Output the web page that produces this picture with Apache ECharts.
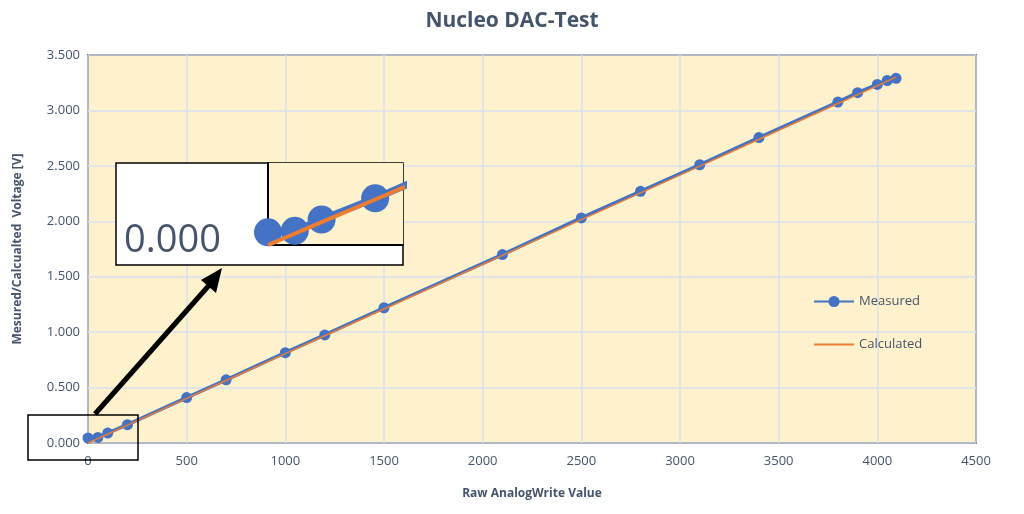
<!DOCTYPE html>
<html>
<head>
<meta charset="utf-8">
<script src="https://cdn.jsdelivr.net/npm/echarts@6/dist/echarts.min.js"></script>
<style>html,body{margin:0;padding:0;background:#fff}#chart{width:1024px;height:514px}</style>
</head>
<body>
<div id="chart"></div>
<script>
// raw DAC input values
const rawValues = [0, 50, 100, 200, 500, 700, 1000, 1200, 1500, 2100, 2500, 2800, 3100, 3400, 3800, 3900, 4000, 4050, 4095]
// measured voltages
const measured = [0.045, 0.05, 0.09, 0.165, 0.41, 0.57, 0.815, 0.975, 1.22, 1.70, 2.03, 2.27, 2.51, 2.755, 3.075, 3.16, 3.235, 3.27, 3.29]
// calculated voltages
const calculated = [0, 0.040, 0.081, 0.161, 0.403, 0.564, 0.806, 0.967, 1.209, 1.692, 2.015, 2.256, 2.498, 2.740, 3.062, 3.143, 3.223, 3.264, 3.300]

const pairs = (xs, ys) => xs.map((x, i) => [x, ys[i]])
const textColor = '#44546A'
const font = 'Open Sans'

const chart = echarts.init(document.getElementById('chart'))

chart.setOption({
  animation: false,
  textStyle: { fontFamily: font },
  title: {
    text: 'Nucleo DAC-Test', left: 'center', top: 6,
    textStyle: { color: textColor, fontSize: 21, fontWeight: 'bold', fontFamily: font }
  },
  legend: {
    left: 808, top: 290, orient: 'vertical', itemGap: 30, itemWidth: 40,
    textStyle: { color: textColor, fontSize: 13 },
    data: ['Measured', { name: 'Calculated', icon: 'path://M0,0H40V2H0Z', itemStyle: { color: '#ED7D31' } }]
  },
  grid: [
    { left: 88, top: 55, width: 888, height: 388, show: true, backgroundColor: '#FFF2CC', borderColor: '#000', borderWidth: 1.5 },
    { left: 268, top: 163, width: 135, height: 82, show: true, backgroundColor: '#FFF2CC', borderWidth: 0, z: 3 }
  ],
  xAxis: [
    {
      type: 'value', min: 0, max: 4500, interval: 500, gridIndex: 0,
      name: 'Raw AnalogWrite Value', nameLocation: 'middle', nameGap: 45,
      nameTextStyle: { color: textColor, fontWeight: 'bold', fontSize: 12 },
      axisLine: { show: false }, axisTick: { show: false },
      axisLabel: { color: textColor, fontSize: 13, margin: 12, formatter: v => String(v) },
      splitLine: { lineStyle: { color: '#D9E1F2', width: 1.5 } }
    },
    {
      type: 'value', min: 0, max: 252, gridIndex: 1, z: 3,
      axisLine: { show: true, onZero: false, lineStyle: { color: '#000', width: 2 } },
      axisTick: { show: false }, axisLabel: { show: false }, splitLine: { show: false }
    }
  ],
  yAxis: [
    {
      type: 'value', min: 0, max: 3.5, interval: 0.5, gridIndex: 0,
      name: 'Mesured/Calcualted  Voltage [V]', nameLocation: 'middle', nameGap: 64,
      nameTextStyle: { color: textColor, fontWeight: 'bold', fontSize: 12 },
      axisLine: { show: false }, axisTick: { show: false },
      axisLabel: { color: textColor, fontSize: 13, formatter: v => v.toFixed(3) },
      splitLine: { lineStyle: { color: '#D9E1F2', width: 1.5 } }
    },
    {
      type: 'value', min: 0, max: 0.29, gridIndex: 1, z: 3,
      axisLine: { show: true, onZero: false, lineStyle: { color: '#000', width: 2 } },
      axisTick: { show: false }, axisLabel: { show: false }, splitLine: { show: false }
    }
  ],
  graphic: [
    { type: 'rect', z: 1, shape: { x: 116, y: 163, width: 287, height: 102 }, style: { fill: '#fff', stroke: '#000', lineWidth: 1.5 } },
    { type: 'text', z: 5, left: 124, top: 222, style: { text: '0.000', fill: textColor, font: '38px "Open Sans"' } },
    { type: 'rect', z: 5, shape: { x: 28, y: 415, width: 110, height: 45 }, style: { fill: 'none', stroke: '#000', lineWidth: 1.5 } },
    { type: 'line', z: 5, shape: { x1: 95, y1: 414, x2: 212, y2: 282 }, style: { stroke: '#000', lineWidth: 5 } },
    { type: 'polygon', z: 5, shape: { points: [[222, 268], [201, 280], [216, 293]] }, style: { fill: '#000' } }
  ],
  series: [
    {
      name: 'Measured', type: 'line', xAxisIndex: 0, yAxisIndex: 0, z: 2,
      data: pairs(rawValues, measured),
      symbol: 'circle', symbolSize: 11,
      itemStyle: { color: '#4472C4' }, lineStyle: { color: '#4472C4', width: 3.5 }
    },
    {
      name: 'Calculated', type: 'line', xAxisIndex: 0, yAxisIndex: 0, z: 3,
      data: pairs(rawValues, calculated), showSymbol: false, symbol: 'none',
      itemStyle: { color: '#ED7D31' }, lineStyle: { color: '#ED7D31', width: 1.5 }
    },
    {
      type: 'line', xAxisIndex: 1, yAxisIndex: 1, z: 4, clip: true,
      data: pairs(rawValues.slice(0, 5), measured.slice(0, 5)),
      symbol: 'circle', symbolSize: 28,
      itemStyle: { color: '#4472C4' }, lineStyle: { color: '#4472C4', width: 7 }
    },
    {
      type: 'line', xAxisIndex: 1, yAxisIndex: 1, z: 5, clip: true,
      data: pairs(rawValues.slice(0, 5), calculated.slice(0, 5)), symbol: 'none',
      itemStyle: { color: '#ED7D31' }, lineStyle: { color: '#ED7D31', width: 4 }
    }
  ]
})
</script>
</body>
</html>
